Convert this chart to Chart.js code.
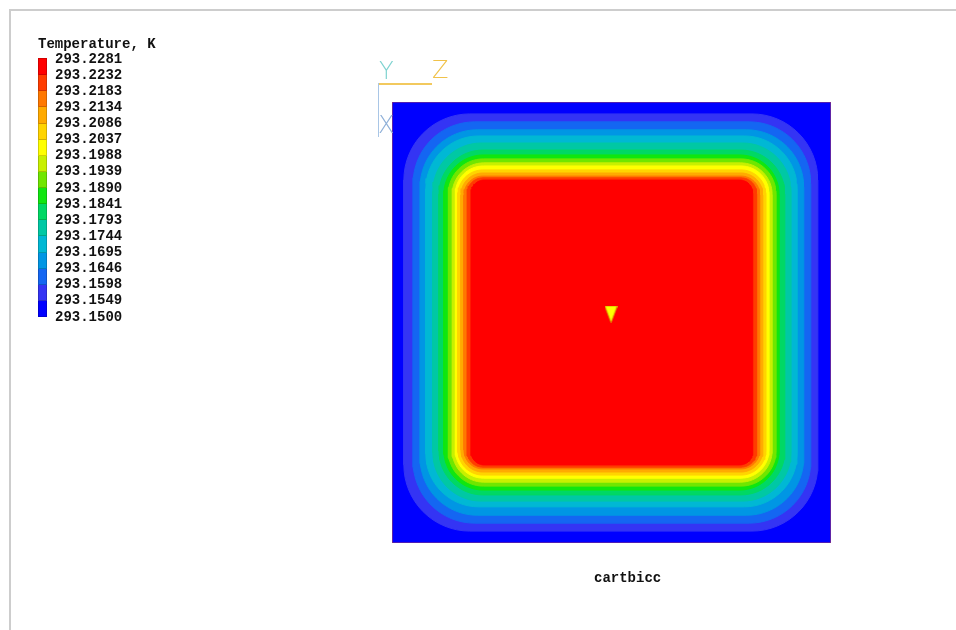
<!DOCTYPE html>
<html><head><meta charset="utf-8">
<script src="https://cdn.jsdelivr.net/npm/chart.js@4.4.1/dist/chart.umd.min.js"></script>
<style>
html,body{margin:0;padding:0;background:#fff;width:956px;height:630px;overflow:hidden;}
#wrap{position:absolute;left:0;top:0;width:956px;height:630px;}
#frame{position:absolute;left:9px;top:9px;width:947px;height:621px;border-top:2px solid #cdcdcd;border-left:2px solid #cdcdcd;box-sizing:border-box;pointer-events:none;}
.mono{position:absolute;font-family:"Liberation Mono","Courier New",monospace;font-weight:bold;font-size:14px;line-height:14px;color:#111;white-space:nowrap;}
.box{position:absolute;left:38px;width:9px;box-sizing:border-box;border:1px solid rgba(0,0,0,0.18);}
.axl{position:absolute;font-family:"DejaVu Sans","Liberation Sans",sans-serif;font-weight:200;font-size:24px;line-height:24px;}
.ln{position:absolute;}
</style></head>
<body>
<div id="frame"></div>
<div id="wrap"><canvas id="c"></canvas></div>
<div id="legend"></div>
<div class="ln" style="left:378px;top:83px;width:54px;height:1.5px;background:#f2c95e"></div>
<div class="ln" style="left:377.5px;top:83px;width:1.5px;height:54px;background:#a9c6e6"></div>
<div class="axl" style="left:379px;top:59px;color:#7fd3d0">Y</div>
<div class="axl" style="left:432px;top:58px;color:#f0c24a">Z</div>
<div class="axl" style="left:378px;top:113px;color:#8fb0d8">X</div>
<div class="mono" id="caseLabel" style="left:594px;top:571px"></div>
<script>
// Contour levels (legend ticks), K
const levelTicks = [293.1500, 293.1549, 293.1598, 293.1646, 293.1695, 293.1744, 293.1793, 293.1841,
  293.1890, 293.1939, 293.1988, 293.2037, 293.2086, 293.2134, 293.2183, 293.2232, 293.2281];
// Band fill colours, lowest band first
const bandColors = ['#0000ff', '#3434f4', '#1466f2', '#0096e4', '#00b8d4', '#00c8a4', '#00d864', '#10e610',
  '#70e600', '#c8f000', '#ffff00', '#ffd400', '#ffaa00', '#ff7800', '#ff3c00', '#ff0000'];
// Distance of each contour line (levels 293.1549 ... 293.2232) from each wall, domain units (0..1)
const leftDist   = [0.027, 0.048, 0.064, 0.077, 0.093, 0.107, 0.118, 0.128, 0.137, 0.144, 0.150, 0.157, 0.164, 0.171, 0.180];
const rightDist  = [0.030, 0.046, 0.062, 0.077, 0.091, 0.105, 0.118, 0.125, 0.134, 0.141, 0.148, 0.155, 0.162, 0.169, 0.178];
const topDist    = [0.027, 0.045, 0.063, 0.077, 0.093, 0.109, 0.120, 0.129, 0.138, 0.145, 0.154, 0.161, 0.168, 0.172, 0.177];
const bottomDist = [0.027, 0.045, 0.063, 0.082, 0.095, 0.109, 0.120, 0.129, 0.138, 0.147, 0.154, 0.161, 0.168, 0.172, 0.177];
// Corner rounding radius of each contour line, domain units
const cornerRadius = [0.150, 0.140, 0.130, 0.120, 0.110, 0.100, 0.090, 0.080, 0.072, 0.064, 0.057, 0.050, 0.043, 0.036, 0.030];
// Probe location
const probePoint = [0.499, 0.519];
const caseName = 'cartbicc';
const legendTitle = 'Temperature, K';

// ---- legend (colour bar) ----
const leg = document.getElementById('legend');
const barTop = 58, barBot = 316, nb = bandColors.length, bh = (barBot - barTop) / nb;
const t = document.createElement('div'); t.className = 'mono'; t.style.left = '38px'; t.style.top = '37px'; t.textContent = legendTitle; leg.appendChild(t);
for (let i = 0; i < nb; i++) {
  const b = document.createElement('div'); b.className = 'box';
  b.style.top = (barBot - (i + 1) * bh) + 'px'; b.style.height = (bh + 1) + 'px'; b.style.background = bandColors[i];
  leg.appendChild(b);
}
levelTicks.forEach((v, j) => {
  const d = document.createElement('div'); d.className = 'mono';
  d.style.left = '55px'; d.style.top = (barBot - j * bh - 6.5) + 'px';
  d.textContent = v.toFixed(4); leg.appendChild(d);
});
document.getElementById('caseLabel').textContent = caseName;

// ---- contour shapes ----
function contour(k) {
  const x0 = leftDist[k], x1 = 1 - rightDist[k], y0 = bottomDist[k], y1 = 1 - topDist[k], r = cornerRadius[k];
  const pts = [];
  const corners = [[x1 - r, y1 - r, 0], [x0 + r, y1 - r, 90], [x0 + r, y0 + r, 180], [x1 - r, y0 + r, 270]];
  for (const [cx, cy, a0] of corners) {
    for (let i = 0; i <= 16; i++) {
      const a = (a0 + i * 90 / 16) * Math.PI / 180;
      pts.push({x: cx + r * Math.cos(a), y: cy + r * Math.sin(a)});
    }
  }
  pts.push(pts[0]);
  return pts;
}
const rect = [{x: 0, y: 0}, {x: 1, y: 0}, {x: 1, y: 1}, {x: 0, y: 1}, {x: 0, y: 0}];
const datasets = [];
datasets.push({data: rect, showLine: true, fill: 'shape', backgroundColor: bandColors[0], borderColor: bandColors[0], borderWidth: 1, pointRadius: 0, order: 100});
for (let k = 0; k < leftDist.length; k++) {
  datasets.push({data: contour(k), showLine: true, fill: 'shape', backgroundColor: bandColors[k + 1], borderColor: bandColors[k + 1], borderWidth: 1, pointRadius: 0, order: 99 - k});
}
datasets.push({data: rect, showLine: true, fill: false, borderColor: '#9c3c6c', borderWidth: 1.2, pointRadius: 0, order: 2});
const tri = document.createElement('canvas'); tri.width = 13; tri.height = 17;
const tc = tri.getContext('2d');
tc.beginPath(); tc.moveTo(0.5, 0.5); tc.lineTo(12.5, 0.5); tc.lineTo(6.5, 16.5); tc.closePath();
tc.fillStyle = '#ffff00'; tc.fill(); tc.strokeStyle = '#d6c400'; tc.lineWidth = 1; tc.stroke();
datasets.push({data: [{x: probePoint[0], y: probePoint[1]}], pointStyle: tri, pointRadius: 8, showLine: false, order: 0});

new Chart(document.getElementById('c'), {
  type: 'scatter',
  data: {datasets},
  options: {
    responsive: true, maintainAspectRatio: false, animation: false, events: [],
    layout: {padding: {left: 392, right: 125, top: 102, bottom: 87}},
    scales: {
      x: {type: 'linear', min: 0, max: 1, display: false},
      y: {type: 'linear', min: 0, max: 1, display: false}
    },
    elements: {line: {tension: 0}},
    plugins: {legend: {display: false}, tooltip: {enabled: false}, title: {display: false}}
  }
});
</script>
</body></html>
